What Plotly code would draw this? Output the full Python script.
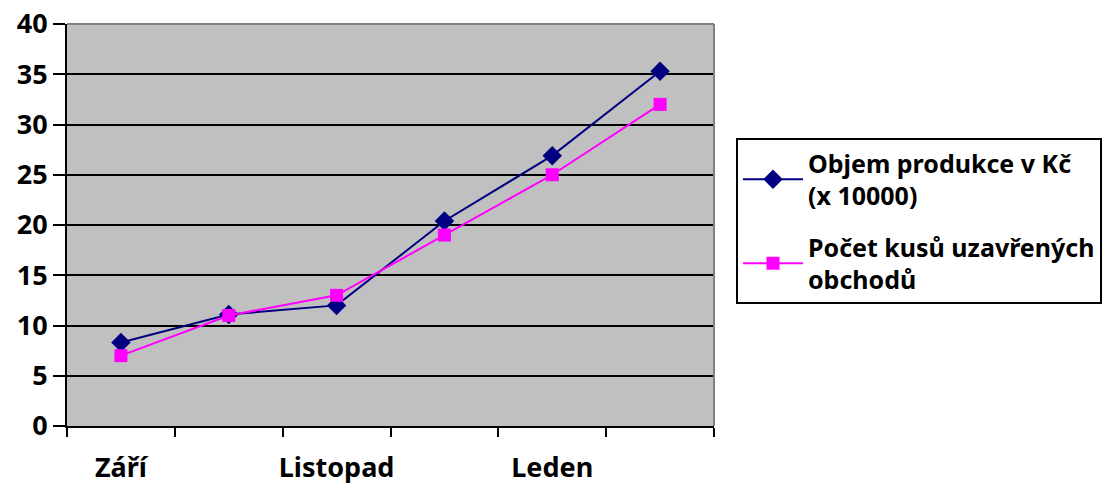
import plotly.graph_objects as go

months = ["Září", "Říjen", "Listopad", "Prosinec", "Leden", "Únor"]
month_labels = ["Září", "", "Listopad", "", "Leden", ""]
objem = [8.3, 11.1, 12.0, 20.4, 26.9, 35.3]
pocet = [7, 11, 13, 19, 25, 32]
y_ticks = [0, 5, 10, 15, 20, 25, 30, 35, 40]

FONT = "Noto Sans"
FS = 27
LFS = 25

def b(s):
    return f"<b>{s}</b>" if s != "" else ""

fig = go.Figure()
fig.add_trace(go.Scatter(
    x=months, y=objem, mode="lines+markers",
    name="<b>Objem produkce v Kč</b><br><b>(x 10000)</b>",
    legendgroup="a",
    line=dict(color="#000080", width=2),
    marker=dict(symbol="diamond", size=15, color="#000080"),
))
fig.add_trace(go.Scatter(
    x=months, y=pocet, mode="lines+markers",
    name="<b>Počet kusů uzavřených</b><br><b>obchodů</b>",
    legendgroup="b",
    line=dict(color="#FF00FF", width=2),
    marker=dict(symbol="square", size=13, color="#FF00FF"),
))

fig.update_layout(
    width=1112, height=490,
    margin=dict(l=67, r=398, t=24, b=64, autoexpand=False),
    paper_bgcolor="white",
    plot_bgcolor="#C0C0C0",
    font=dict(family=FONT, size=FS, color="black"),
    showlegend=True,
    legend=dict(
        x=1.034, y=0.716, xanchor="left", yanchor="top",
        bordercolor="black", borderwidth=2, bgcolor="white",
        font=dict(family=FONT, size=LFS, color="black"),
        tracegroupgap=16, itemwidth=60,
    ),
)
fig.update_xaxes(
    type="category", categoryorder="array", categoryarray=months,
    range=[-0.5, 5.5],
    tickmode="array", tickvals=months, ticktext=[b(s) for s in month_labels],
    tickangle=0,
    tickson="boundaries", ticks="outside", ticklen=9, tickwidth=2, tickcolor="black",
    showline=True, linecolor="black", linewidth=2,
    showgrid=False, mirror=False,
    ticklabelstandoff=17,
    tickfont=dict(family=FONT, size=FS, color="black"),
)
fig.update_yaxes(
    range=[0, 40], tickmode="array", tickvals=y_ticks, ticktext=[b(v) for v in y_ticks],
    ticks="outside", ticklen=12, tickwidth=2, tickcolor="black",
    showline=True, linecolor="black", linewidth=2,
    showgrid=True, gridcolor="black", gridwidth=2,
    zeroline=False,
    tickfont=dict(family=FONT, size=FS, color="black"),
)
# gray border on top and right of plot area
fig.add_shape(type="line", xref="paper", yref="paper", x0=0, x1=1, y0=1, y1=1,
              line=dict(color="#808080", width=2))
fig.add_shape(type="line", xref="paper", yref="paper", x0=1, x1=1, y0=0, y1=1,
              line=dict(color="#808080", width=2))

fig.write_html("out.html")
